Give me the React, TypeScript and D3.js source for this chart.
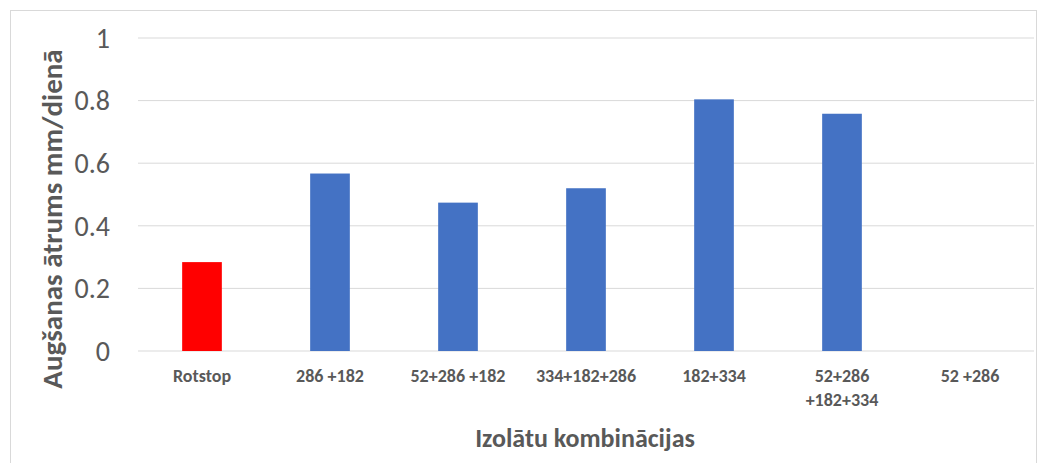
import React, {useEffect, useRef} from "react";
import * as d3 from "d3";

const categories: string[] = ["Rotstop", "286 +182", "52+286 +182", "334+182+286", "182+334", "52+286 +182+334", "52 +286"];
const categoryLines: string[][] = [["Rotstop"], ["286 +182"], ["52+286 +182"], ["334+182+286"], ["182+334"], ["52+286", "+182+334"], ["52 +286"]];
const growthValues: number[] = [0.284, 0.567, 0.474, 0.52, 0.804, 0.758, 0];
const barColors: string[] = ["#FF0000", "#4472C4", "#4472C4", "#4472C4", "#4472C4", "#4472C4", "#4472C4"];
const yTicks: number[] = [0, 0.2, 0.4, 0.6, 0.8, 1];
const yTitle = "Augšanas ātrums mm/dienā";
const xTitle = "Izolātu kombinācijas";

const W = 1040;
const H = 463;
const margin = {top: 38, right: 6, bottom: 112, left: 138};
const textColor = "#595959";
const fontFamily = "Carlito, Calibri, Lato, 'Open Sans', sans-serif";

export default function App(): React.ReactElement {
  const svgRef = useRef<SVGSVGElement>(null);

  useEffect(() => {
    if (svgRef.current === null) return;
    const svg = d3.select(svgRef.current);
    svg.selectAll("*").remove();

    const width = W - margin.left - margin.right;
    const height = H - margin.top - margin.bottom;

    const x = d3.scaleBand<string>().domain(categories).range([0, width]).paddingInner(0.69).paddingOuter(0.345);
    const y = d3.scaleLinear().domain([0, 1]).range([height, 0]);

    svg.append("rect")
      .attr("x", 10.5).attr("y", 10.5)
      .attr("width", W - 14).attr("height", H)
      .attr("fill", "white").attr("stroke", "#d9d9d9");

    const g = svg.append("g").attr("transform", `translate(${margin.left},${margin.top})`);

    g.selectAll(".grid")
      .data(yTicks)
      .join("line")
      .attr("class", "grid")
      .attr("x1", 0).attr("x2", width)
      .attr("y1", d => y(d)).attr("y2", d => y(d))
      .attr("stroke", "#d9d9d9").attr("stroke-width", 1);

    g.selectAll(".ytick")
      .data(yTicks)
      .join("text")
      .attr("class", "ytick")
      .attr("x", -28)
      .attr("y", d => y(d))
      .attr("dy", "0.35em")
      .attr("text-anchor", "end")
      .attr("fill", textColor)
      .style("font-family", fontFamily)
      .style("font-size", "28px")
      .text(d => d3.format("")(d));

    g.selectAll(".bar")
      .data(growthValues)
      .join("rect")
      .attr("class", "bar")
      .attr("x", (d, i) => x(categories[i]) as number)
      .attr("y", d => y(d))
      .attr("width", x.bandwidth())
      .attr("height", d => height - y(d))
      .attr("fill", (d, i) => barColors[i]);

    const labels = g.selectAll(".xlabel")
      .data(categoryLines)
      .join("text")
      .attr("class", "xlabel")
      .attr("x", (d, i) => (x(categories[i]) as number) + x.bandwidth() / 2)
      .attr("y", height + 31)
      .attr("text-anchor", "middle")
      .attr("fill", textColor)
      .style("font-family", fontFamily)
      .style("font-size", "18px")
      .style("font-weight", "bold");
    labels.selectAll("tspan")
      .data(d => d)
      .join("tspan")
      .attr("x", function () { return (this.parentNode as SVGTextElement).getAttribute("x"); })
      .attr("dy", (d, i) => i === 0 ? 0 : 24)
      .text(d => d);

    svg.append("text")
      .attr("x", 585)
      .attr("y", 447)
      .attr("text-anchor", "middle")
      .attr("fill", textColor)
      .style("font-family", fontFamily)
      .style("font-size", "26px")
      .style("font-weight", "bold")
      .text(xTitle);

    svg.append("text")
      .attr("transform", `translate(62,219) rotate(-90)`)
      .attr("text-anchor", "middle")
      .attr("fill", textColor)
      .style("font-family", fontFamily)
      .style("font-size", "29px")
      .style("font-weight", "bold")
      .text(yTitle);
  }, []);

  return (
    <svg ref={svgRef} width={W} height={H} style={{position: "absolute", left: 0, top: 0, background: "white"}}></svg>
  );
}
